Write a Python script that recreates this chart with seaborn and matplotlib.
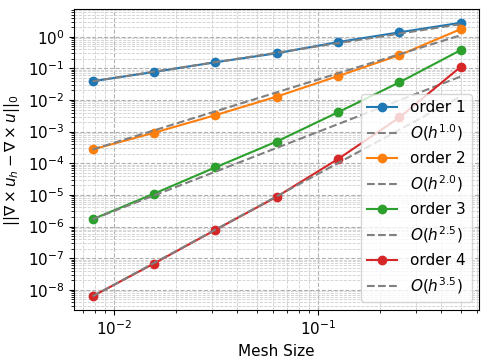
import numpy as np
import seaborn as sns
import matplotlib
matplotlib.use("Agg")
import matplotlib.pyplot as plt

# mesh sizes (1/128 ... 1/2)
h = [1/128, 1/64, 1/32, 1/16, 1/8, 1/4, 1/2]

# errors
err1 = [3.92e-2, 7.7e-2, 1.56e-1, 3.0e-1, 6.8e-1, 1.38, 2.77]
err2 = [2.73e-4, 9.2e-4, 3.31e-3, 1.28e-2, 5.7e-2, 2.62e-1, 1.75]
err3 = [1.69e-6, 1.09e-5, 7.4e-5, 4.87e-4, 4.1e-3, 3.63e-2, 3.8e-1]
err4 = [6.2e-9, 6.76e-8, 7.8e-7, 8.7e-6, 1.36e-4, 2.8e-3, 1.13e-1]

labels = ["order 1", "order 2", "order 3", "order 4"]
rates = [1.0, 2.0, 2.5, 3.5]
colors = sns.color_palette("tab10", 4)

plt.rcParams["font.size"] = 11

fig, ax = plt.subplots(figsize=(4.88, 3.63), dpi=100)
fig.subplots_adjust(left=0.152, right=0.982, top=0.975, bottom=0.146)

hh = np.array(h)
for err, lab, p, c in zip([err1, err2, err3, err4], labels, rates, colors):
    sns.lineplot(x=h, y=err, ax=ax, color=c, marker="o", markersize=6,
                 markeredgecolor=c, markeredgewidth=1, label=lab)
    # reference slope anchored at the finest mesh
    ref = err[0] * (hh / hh[0]) ** p
    sns.lineplot(x=h, y=ref, ax=ax, color="gray", linestyle="--",
                 label=r"$O(h^{%.1f})$" % p)

ax.set_xscale("log")
ax.set_yscale("log")
ax.margins(0.05)
ax.grid(True, which="major", linestyle="--", color="#b0b0b0", linewidth=0.8)
ax.grid(True, which="minor", linestyle="--", color="#cfcfcf", linewidth=0.6)
ax.set_xlabel("Mesh Size")
ax.set_ylabel(r"$||\nabla \times u_h - \nabla \times u||_0$")
ax.legend(loc="lower right")

fig.savefig("out.png", dpi=100)
